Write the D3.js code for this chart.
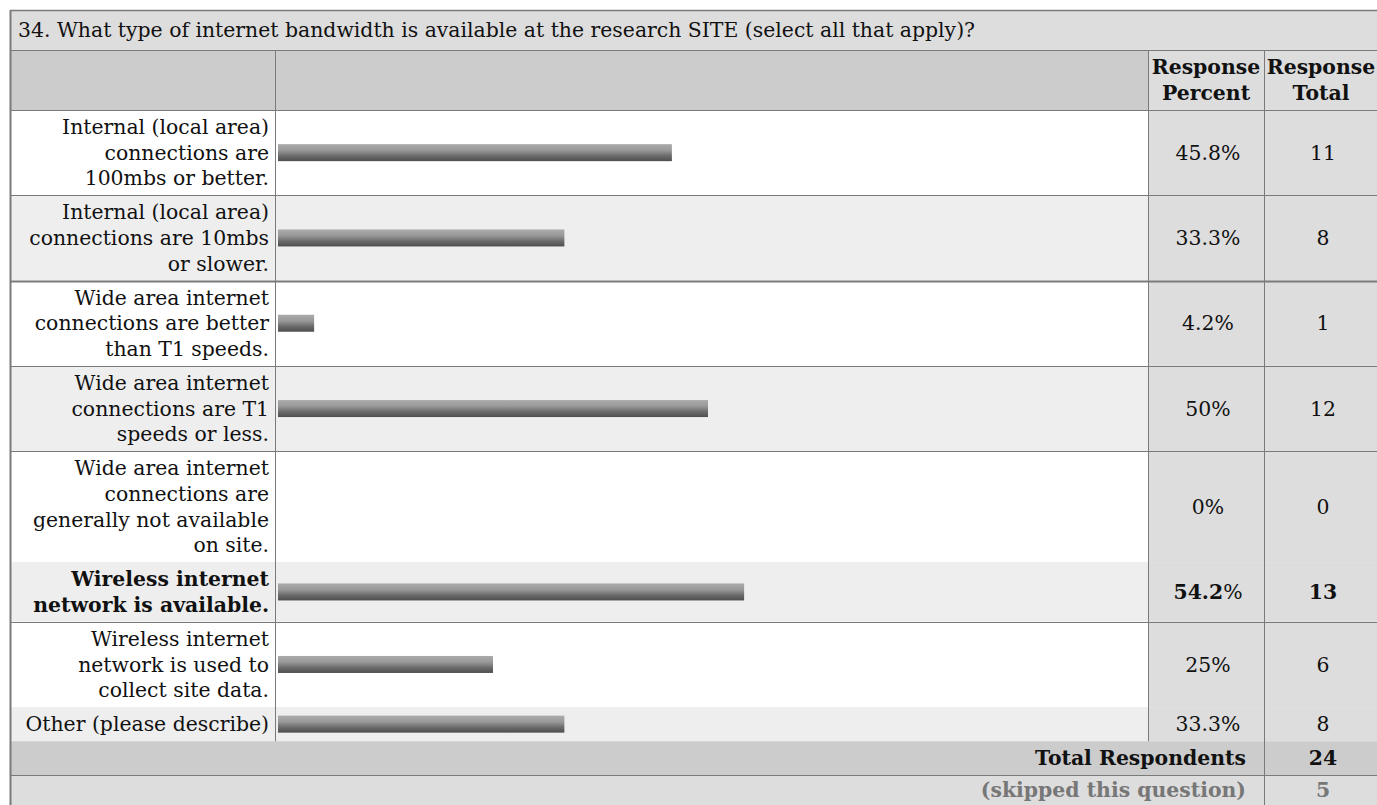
<!DOCTYPE html>
<html>
<head>
<meta charset="utf-8">
<script src="https://cdn.jsdelivr.net/npm/d3@7/dist/d3.min.js"></script>
<style>
  html, body { margin: 0; padding: 0; background: #fff; }
  svg { display: block; }
  text { font-family: "DejaVu Serif", serif; font-size: 20.4px; fill: #111; }
</style>
</head>
<body>
<svg id="chart" width="1377" height="805"></svg>
<script>
// ---------- data ----------
const questionTitle = "34. What type of internet bandwidth is available at the research SITE (select all that apply)?";
const headerPercent = ["Response", "Percent"];
const headerTotal = ["Response", "Total"];
const categoryLines = [
  ["Internal (local area)", "connections are", "100mbs or better."],
  ["Internal (local area)", "connections are 10mbs", "or slower."],
  ["Wide area internet", "connections are better", "than T1 speeds."],
  ["Wide area internet", "connections are T1", "speeds or less."],
  ["Wide area internet", "connections are", "generally not available", "on site."],
  ["Wireless internet", "network is available."],
  ["Wireless internet", "network is used to", "collect site data."],
  ["Other (please describe)"]
];
const percentValues = [45.8, 33.3, 4.2, 50, 0, 54.2, 25, 33.3];
const percentLabels = ["45.8", "33.3", "4.2", "50", "0", "54.2", "25", "33.3"];
const totalValues = [11, 8, 1, 12, 0, 13, 6, 8];
const highlightedRow = 5;
const totalRespondentsLabel = "Total Respondents";
const totalRespondents = 24;
const skippedLabel = "(skipped this question)";
const skippedCount = 5;

// ---------- layout ----------
const svg = d3.select("#chart");
const L = 10, colLabelR = 275, colBarR = 1148, colPctR = 1264, R = 1380;
const titleTop = 10, headerTop = 50, bodyTop = 110;
const linePitch = 25.6, rowPad = 8.5;
const border = "#7a7a7a";

const rowHeights = categoryLines.map(l => l.length * linePitch + rowPad);
const rowTops = [];
rowHeights.reduce((acc, h) => { rowTops.push(acc); return acc + h; }, bodyTop);
const bodyBottom = rowTops[rowTops.length - 1] + rowHeights[rowHeights.length - 1];
const totalTop = bodyBottom, totalH = 34;
const skipTop = totalTop + totalH, skipH = 34;

const x = d3.scaleLinear().domain([0, 100]).range([colLabelR + 3, colLabelR + 3 + 860]);

// gradient for bars
const defs = svg.append("defs");
const grad = defs.append("linearGradient").attr("id", "barGrad")
  .attr("x1", 0).attr("y1", 0).attr("x2", 0).attr("y2", 1);
grad.append("stop").attr("offset", "0%").attr("stop-color", "#ababab");
grad.append("stop").attr("offset", "35%").attr("stop-color", "#9a9a9a");
grad.append("stop").attr("offset", "70%").attr("stop-color", "#6a6a6a");
grad.append("stop").attr("offset", "100%").attr("stop-color", "#4e4e4e");

// ----- title row -----
svg.append("rect").attr("x", L).attr("y", titleTop).attr("width", R - L).attr("height", headerTop - titleTop).attr("fill", "#dddddd");
svg.append("text").attr("x", L + 8).attr("y", (titleTop + headerTop) / 2).attr("dy", "0.35em").text(questionTitle);

// ----- header row -----
svg.append("rect").attr("x", L).attr("y", headerTop).attr("width", colBarR - L).attr("height", bodyTop - headerTop).attr("fill", "#cccccc");
svg.append("rect").attr("x", colBarR).attr("y", headerTop).attr("width", R - colBarR).attr("height", bodyTop - headerTop).attr("fill", "#dddddd");
function multiLine(lines, cx, cy, anchor, weight) {
  const t = svg.append("text").attr("text-anchor", anchor).attr("font-weight", weight || "normal");
  const n = lines.length;
  lines.forEach((ln, i) => {
    t.append("tspan").attr("x", cx).attr("y", cy + (i - (n - 1) / 2) * linePitch).attr("dy", "0.35em").text(ln);
  });
  return t;
}
const pctCx = (colBarR + colPctR) / 2 + 2;
const totCx = (colPctR + R) / 2 + 1;
multiLine(headerPercent, pctCx - 2, (headerTop + bodyTop) / 2, "middle", "bold");
multiLine(headerTotal, totCx - 2, (headerTop + bodyTop) / 2, "middle", "bold");

// ----- body rows -----
const rows = svg.append("g").selectAll("g").data(categoryLines).join("g");
rows.append("rect").attr("x", L).attr("y", (d, i) => rowTops[i])
  .attr("width", colBarR - L).attr("height", (d, i) => rowHeights[i])
  .attr("fill", (d, i) => i % 2 === 0 ? "#ffffff" : "#eeeeee");
rows.append("rect").attr("x", colBarR).attr("y", (d, i) => rowTops[i])
  .attr("width", R - colBarR).attr("height", (d, i) => rowHeights[i]).attr("fill", "#dddddd");

rows.each(function (d, i) {
  const cy = rowTops[i] + rowHeights[i] / 2;
  const bold = i === highlightedRow ? "bold" : "normal";
  multiLine(d, colLabelR - 6, cy, "end", bold);
  const pt = svg.append("text").attr("x", pctCx).attr("y", cy).attr("dy", "0.35em").attr("text-anchor", "middle");
  pt.append("tspan").attr("font-weight", bold).text(percentLabels[i]);
  pt.append("tspan").text("%");
  svg.append("text").attr("x", totCx).attr("y", cy).attr("dy", "0.35em")
    .attr("text-anchor", "middle").attr("font-weight", bold).text(totalValues[i]);
});

// bars
svg.append("g").selectAll("rect").data(percentValues).join("rect")
  .attr("x", x(0))
  .attr("y", (d, i) => rowTops[i] + rowHeights[i] / 2 - 8.5)
  .attr("width", d => x(d) - x(0))
  .attr("height", d => d > 0 ? 17 : 0)
  .attr("fill", "url(#barGrad)");

// ----- total & skipped rows -----
svg.append("rect").attr("x", L).attr("y", totalTop).attr("width", R - L).attr("height", totalH).attr("fill", "#cccccc");
svg.append("rect").attr("x", L).attr("y", skipTop).attr("width", R - L).attr("height", skipH).attr("fill", "#dddddd");
svg.append("text").attr("x", colPctR - 18).attr("y", totalTop + totalH / 2).attr("dy", "0.35em")
  .attr("text-anchor", "end").attr("font-weight", "bold").text(totalRespondentsLabel);
svg.append("text").attr("x", totCx).attr("y", totalTop + totalH / 2).attr("dy", "0.35em")
  .attr("text-anchor", "middle").attr("font-weight", "bold").text(totalRespondents);
svg.append("text").attr("x", colPctR - 18).attr("y", skipTop + totalH / 2 - 2).attr("dy", "0.35em")
  .attr("text-anchor", "end").attr("font-weight", "bold").style("fill", "#777777").text(skippedLabel);
svg.append("text").attr("x", totCx).attr("y", skipTop + totalH / 2 - 2).attr("dy", "0.35em")
  .attr("text-anchor", "middle").attr("font-weight", "bold").style("fill", "#777777").text(skippedCount);

// ----- borders -----
const lines = svg.append("g").attr("stroke", border).attr("fill", "none");
function hline(y, x1, x2, w) { lines.append("line").attr("x1", x1).attr("x2", x2).attr("y1", y).attr("y2", y).attr("stroke-width", w || 1); }
function vline(xx, y1, y2, w) { lines.append("line").attr("x1", xx).attr("x2", xx).attr("y1", y1).attr("y2", y2).attr("stroke-width", w || 1); }
hline(titleTop + 0.5, L, R, 1.5);
hline(headerTop + 0.5, L, R);
hline(bodyTop + 0.5, L, R);
const visibleSeps = [1, 2, 3, 4, 6];
visibleSeps.forEach(i => hline(Math.round(rowTops[i]) + 0.5, L, R, i === 2 ? 2 : 1));
hline(Math.round(skipTop) + 0.5, L, R);
vline(L + 0.5, titleTop, 805, 2);
vline(colLabelR + 0.5, headerTop, bodyBottom);
vline(colBarR + 0.5, headerTop, bodyBottom);
vline(colPctR + 0.5, headerTop, 805);
</script>
</body>
</html>
